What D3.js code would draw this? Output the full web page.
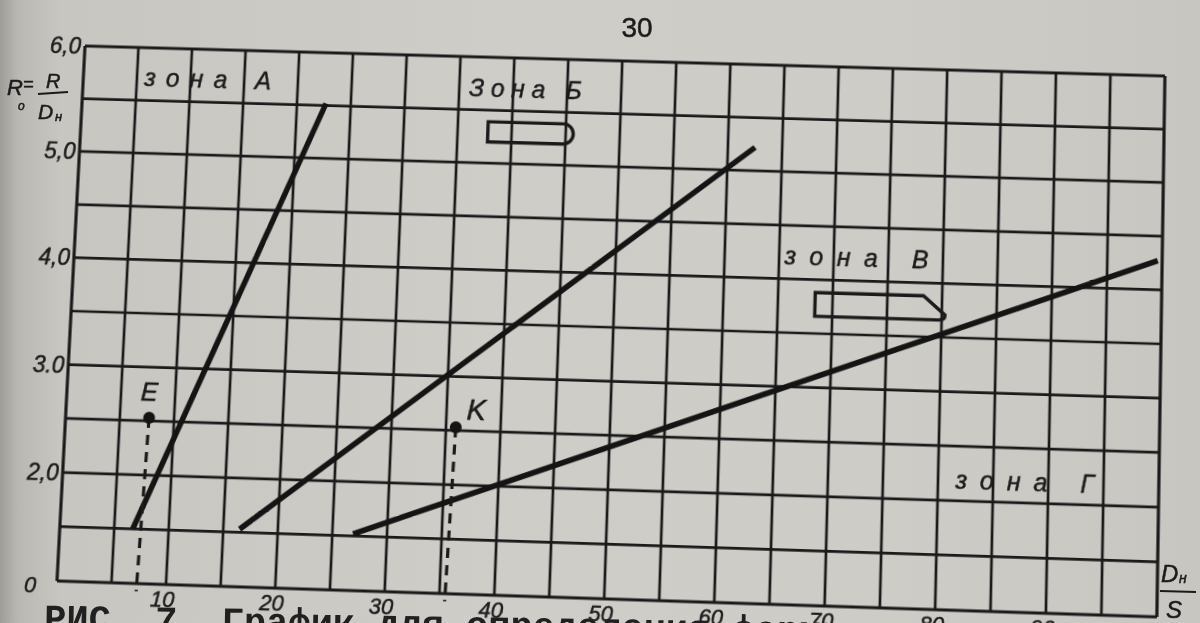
<!DOCTYPE html>
<html><head><meta charset="utf-8">
<script src="https://cdn.jsdelivr.net/npm/d3@7"></script>
<style>
html,body{margin:0;padding:0;background:#cdcbc6;}
#wrap{position:relative;width:1200px;height:623px;overflow:hidden;
 background:linear-gradient(90deg,#9f9d98 0px,#bab8b3 18px,#c8c6c1 60px,#cfcdc8 500px,#cdccc7 900px,#c8c6c1 1200px);}
svg{position:absolute;left:0;top:0;overflow:visible;}
text{font-family:"Liberation Sans",Arial,sans-serif;font-style:italic;fill:#1b1b1b;stroke:#1b1b1b;stroke-width:0.5px;}
</style></head>
<body><div id="wrap"><svg id="chart" width="1200" height="623"></svg><svg id="overlay" width="1200" height="623"></svg></div>
<script>
// ---------------- data ----------------
const xGrid = [0,5,10,15,20,25,30,35,40,45,50,55,60,65,70,75,80,85,90,95,100];
const yGrid = [1.0,1.5,2.0,2.5,3.0,3.5,4.0,4.5,5.0,5.5,6.0];
const xTickValues = [0,10,20,30,40,50,60,70,80,90];
const xTickLabels = ["0","10","20","30","40","50","60","70","80","90"];
const yTickValues = [2,3,4,5,6];
const yTickLabels = ["2,0","3.0","4,0","5,0","6,0"];

const zoneNames = ["А","Б","В"];
const lineA_x = [6.7, 22.7], lineA_y = [1.5, 5.52];
const lineB_x = [16.5, 62.5], lineB_y = [1.53, 5.22];
const lineV_x = [26.9, 99.6], lineV_y = [1.52, 4.27];

const pointNames = ["E","K"];
const pointX = [7.7, 35.9];
const pointY = [2.53, 2.53];

const zoneLabelText = ["зона А","Зона Б","зона В","зона Г"];
const zoneLabelX = [5.7, 35.9, 65.5, 81.6];
const zoneLabelY = [5.64, 5.63, 4.13, 2.11];

// ---------------- layout ----------------
const L = 60, R = 1160, T = 48, B = 584;
const x = d3.scaleLinear().domain([0,100]).range([L,R]);
const y = d3.scaleLinear().domain([1,6]).range([B,T]);

// perspective of the photographed page
function homography(src, dst){
  const A=[], b=[];
  for(let i=0;i<4;i++){
    const [sx,sy]=src[i],[u,v]=dst[i];
    A.push([sx,sy,1,0,0,0,-u*sx,-u*sy]); b.push(u);
    A.push([0,0,0,sx,sy,1,-v*sx,-v*sy]); b.push(v);
  }
  const n=8;
  for(let c=0;c<n;c++){
    let p=c; for(let r=c+1;r<n;r++) if(Math.abs(A[r][c])>Math.abs(A[p][c])) p=r;
    [A[c],A[p]]=[A[p],A[c]]; [b[c],b[p]]=[b[p],b[c]];
    for(let r=0;r<n;r++){ if(r===c) continue; const f=A[r][c]/A[c][c];
      for(let k=c;k<n;k++) A[r][k]-=f*A[c][k]; b[r]-=f*b[c]; }
  }
  return b.map((v,i)=>v/A[i][i]);
}
const h = homography([[L,T],[R,T],[R,B],[L,B]], [[85,46],[1165,76],[1157,617],[57,581]]);
d3.select("#chart")
  .style("transform-origin","0 0")
  .style("transform",`matrix3d(${h[0]},${h[3]},0,${h[6]},${h[1]},${h[4]},0,${h[7]},0,0,1,0,${h[2]},${h[5]},0,1)`);

const svg = d3.select("#chart");
const ink = "#1a1a1a";

// grid
svg.append("g").selectAll("line").data(yGrid).join("line")
  .attr("x1",x(0)).attr("x2",x(100)).attr("y1",d=>y(d)).attr("y2",d=>y(d))
  .attr("stroke",ink).attr("stroke-width",d=>(d===1||d===6)?3.2:2.7);
svg.append("g").selectAll("line").data(xGrid).join("line")
  .attr("x1",d=>x(d)).attr("x2",d=>x(d)).attr("y1",y(1)).attr("y2",y(6))
  .attr("stroke",ink).attr("stroke-width",d=>(d===0||d===100)?3.2:2.7);

// ticks
svg.append("g").selectAll("text").data(xTickValues).join("text")
  .attr("x",d=>x(d)+(d===0?-27:-3)).attr("y",d=>y(1)+(d===0?12:22))
  .attr("text-anchor","middle").attr("font-size",22)
  .text((d,i)=>xTickLabels[i]);
svg.append("g").selectAll("text").data(yTickValues).join("text")
  .attr("x",d=>x(0)-4).attr("y",d=>y(d)+8)
  .attr("text-anchor","end").attr("font-size",23)
  .text((d,i)=>yTickLabels[i]);

// zone boundary lines
const lines = [[lineA_x,lineA_y],[lineB_x,lineB_y],[lineV_x,lineV_y]];
const lg = d3.line().x(d=>x(d[0])).y(d=>y(d[1]));
svg.append("g").selectAll("path").data(lines).join("path")
  .attr("d",d=>lg(d[0].map((v,i)=>[v,d[1][i]])))
  .attr("fill","none").attr("stroke","#141414").attr("stroke-width",5.6).attr("stroke-linecap","butt");

// points with dashed drop lines
svg.append("g").selectAll("line").data(pointNames).join("line")
  .attr("x1",(d,i)=>x(pointX[i])).attr("x2",(d,i)=>x(pointX[i]-0.4))
  .attr("y1",(d,i)=>y(pointY[i])).attr("y2",y(0.93))
  .attr("stroke",ink).attr("stroke-width",3.2).attr("stroke-dasharray","10,7");
svg.append("g").selectAll("circle").data(pointNames).join("circle")
  .attr("cx",(d,i)=>x(pointX[i])).attr("cy",(d,i)=>y(pointY[i])).attr("r",6).attr("fill","#141414");
svg.append("g").selectAll("text").data(pointNames).join("text")
  .attr("x",(d,i)=>x(pointX[i])+(i===0?-1:20)).attr("y",(d,i)=>y(pointY[i])-(i===0?17:8))
  .attr("text-anchor","middle").attr("font-size",(d,i)=>i===0?26:29)
  .text(d=>d);

// zone labels
const zoneWidths = [130,115,145,138];
svg.append("g").selectAll("text").data(zoneLabelText).join("text")
  .attr("x",(d,i)=>x(zoneLabelX[i])).attr("y",(d,i)=>y(zoneLabelY[i]))
  .attr("font-size",25).attr("textLength",(d,i)=>zoneWidths[i]).attr("lengthAdjust","spacing")
  .text(d=>d);

// zone shape glyphs (rounded bar for Б, chamfered bar for В)
const gx0 = x(37.8), gx1 = x(45.7), gy0 = y(5.39), gy1 = y(5.2);
const r1 = (gy1-gy0)/2;
svg.append("path")
  .attr("d",`M${gx0},${gy0} L${gx1-r1},${gy0} A${r1},${r1} 0 0 1 ${gx1-r1},${gy1} L${gx0},${gy1} Z`)
  .attr("fill","none").attr("stroke",ink).attr("stroke-width",3.4);
const vx0 = x(68.4), vx1 = x(80.3), vy0 = y(3.88), vy1 = y(3.66);
svg.append("path")
  .attr("d",`M${vx0},${vy0} L${vx1-22},${vy0} L${vx1},${vy1-5} Q${vx1},${vy1} ${vx1-6},${vy1} L${vx0},${vy1} Z`)
  .attr("fill","none").attr("stroke",ink).attr("stroke-width",3.4);

// ---------------- overlay (page text outside the grid) ----------------
const ov = d3.select("#overlay");
ov.append("text").attr("x",637).attr("y",37).attr("text-anchor","middle")
  .attr("font-size",28).style("font-style","normal").text("30");
// y-axis title R0 = R / Dн
ov.append("text").attr("x",7).attr("y",95).attr("font-size",22).text("R");
ov.append("text").attr("x",18).attr("y",110).attr("font-size",12).text("о");
ov.append("text").attr("x",23).attr("y",90).attr("font-size",18).text("=");
ov.append("text").attr("x",46).attr("y",88).attr("font-size",20).text("R");
ov.append("line").attr("x1",38).attr("x2",68).attr("y1",94).attr("y2",92).attr("stroke",ink).attr("stroke-width",2);
ov.append("text").attr("x",38).attr("y",119).attr("font-size",21).text("D");
ov.append("text").attr("x",55).attr("y",121).attr("font-size",13).text("н");
// x-axis title Dн / S
ov.append("text").attr("x",1161).attr("y",582).attr("font-size",24).text("D");
ov.append("text").attr("x",1179).attr("y",583).attr("font-size",14).text("н");
ov.append("line").attr("x1",1160).attr("x2",1196).attr("y1",591).attr("y2",592).attr("stroke",ink).attr("stroke-width",2.2);
ov.append("text").attr("x",1166).attr("y",618).attr("font-size",24).text("S");
// figure caption (cut off at the bottom of the photo)
ov.append("text").attr("x",44).attr("y",630).attr("transform","rotate(0.9,44,630)")
  .style("font-family","'Liberation Mono', 'DejaVu Sans Mono', monospace").style("font-style","normal")
  .style("font-weight","bold").attr("font-size",37).style("fill","#202020").style("stroke","none")
  .text("РИС. 7. График для определения формы");
</script></body></html>
